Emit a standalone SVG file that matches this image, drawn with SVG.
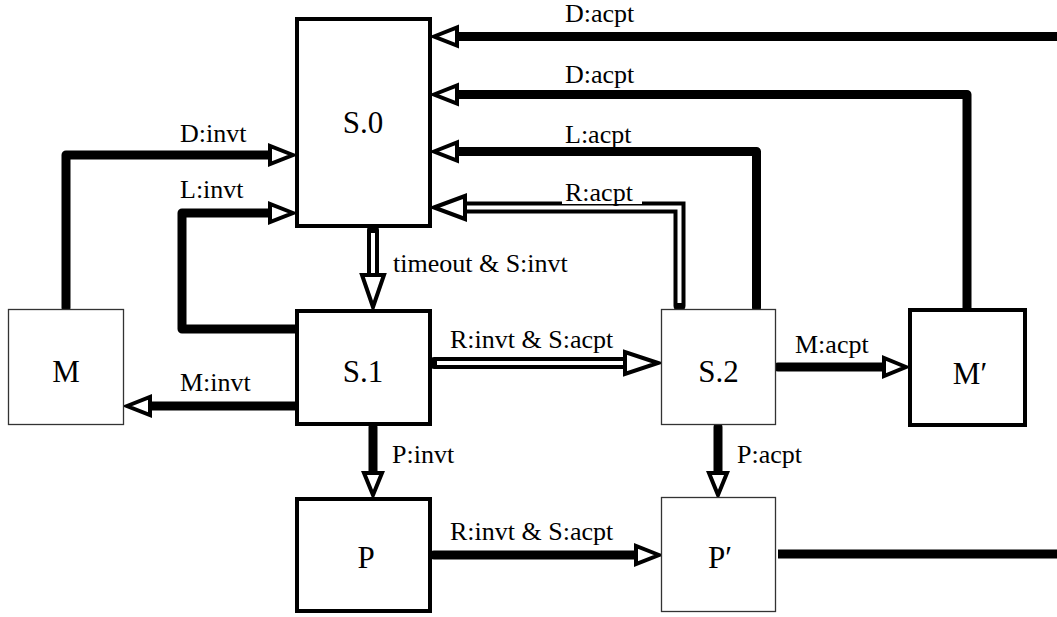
<svg xmlns="http://www.w3.org/2000/svg" width="1057" height="617" viewBox="0 0 1057 617">
<style>
.thick{fill:#fff;stroke:#000;stroke-width:4}
.thin{fill:#fff;stroke:#333;stroke-width:1.3}
.nl{font-family:"Liberation Serif","Times New Roman",serif;font-size:31px;fill:#000;text-anchor:middle}
.el{font-family:"Liberation Serif","Times New Roman",serif;font-size:26px;fill:#000}
.w{fill:none;stroke:#000;stroke-width:9;stroke-linejoin:round;stroke-linecap:round}
.db{fill:none;stroke:#000;stroke-width:12;stroke-linejoin:miter;stroke-linecap:round}
.dw{fill:none;stroke:#fff;stroke-width:4;stroke-linejoin:miter;stroke-linecap:butt}
.ah{fill:#fff;stroke:#000;stroke-width:4;stroke-linejoin:miter}
</style>
<rect width="1057" height="617" fill="#fff"/>
<g id="connectors">
  <!-- D:acpt top -->
  <path class="w" d="M1060,36.5 H457"/>
  <polygon class="ah" points="434,36.5 457,27.5 457,45.5"/>
  <!-- D:acpt from M' -->
  <path class="w" d="M967,308 V94.5 H457"/>
  <polygon class="ah" points="434,94.5 457,85.5 457,103.5"/>
  <!-- L:acpt from S.2 -->
  <path class="w" d="M756.5,308 V151.5 H457"/>
  <polygon class="ah" points="434,151.5 457,142.5 457,160.5"/>
  <!-- R:acpt double from S.2 -->
  <path class="db" d="M679.5,306 V207.5 H466"/>
  <path class="dw" d="M679.5,303 V207.5 H466"/>
  <polygon class="ah" points="434,207.5 465,196 465,219"/>
  <!-- timeout & S:invt double S.0 -> S.1 -->
  <path class="db" d="M373,230 V276"/>
  <path class="dw" d="M373,233 V276"/>
  <polygon class="ah" points="373,307 362,275 384,275"/>
  <!-- D:invt M -> S.0 -->
  <path class="w" d="M66,308 V155 H270"/>
  <polygon class="ah" points="293,155 270,146 270,164"/>
  <!-- L:invt S.1 -> S.0 -->
  <path class="w" d="M295,329 H182 V213 H270"/>
  <polygon class="ah" points="293,213 270,204 270,222"/>
  <!-- M:invt S.1 -> M -->
  <path class="w" d="M295,406 H150"/>
  <polygon class="ah" points="127,406 150,397 150,415"/>
  <!-- R:invt & S:acpt double S.1 -> S.2 -->
  <path class="db" d="M434,363 H626"/>
  <path class="dw" d="M437,363 H626"/>
  <polygon class="ah" points="658,363 625,352 625,374"/>
  <!-- M:acpt S.2 -> M' -->
  <path class="w" d="M778,367 H884"/>
  <polygon class="ah" points="906,367 884,358 884,376"/>
  <!-- P:invt S.1 -> P -->
  <path class="w" d="M373,427 V474"/>
  <polygon class="ah" points="373,495 364,473 382,473"/>
  <!-- P:acpt S.2 -> P' -->
  <path class="w" d="M718,427 V474"/>
  <polygon class="ah" points="718,495 709,473 727,473"/>
  <!-- R:invt & S:acpt P -> P' -->
  <path class="w" d="M434,555 H636"/>
  <polygon class="ah" points="659,555 636,546 636,564"/>
  <!-- P' out -->
  <path class="w" d="M778,554 H1060" style="stroke-linecap:butt"/>
</g>
<g id="labels">
  <text class="el" x="565" y="22">D:acpt</text>
  <text class="el" x="565" y="83">D:acpt</text>
  <text class="el" x="565" y="143">L:acpt</text>
  <rect x="562" y="180" width="80" height="24" fill="#fff"/>
  <text class="el" x="565" y="201">R:acpt</text>
  <text class="el" x="393" y="272">timeout &amp; S:invt</text>
  <text class="el" x="180" y="142">D:invt</text>
  <text class="el" x="180" y="198">L:invt</text>
  <text class="el" x="180" y="391">M:invt</text>
  <text class="el" x="450" y="348">R:invt &amp; S:acpt</text>
  <text class="el" x="795" y="353">M:acpt</text>
  <text class="el" x="392" y="463">P:invt</text>
  <text class="el" x="737" y="463">P:acpt</text>
  <text class="el" x="450" y="540">R:invt &amp; S:acpt</text>
</g>
<g id="S0"><rect class="thick" x="297" y="19" width="133" height="207"/><text class="nl" x="363" y="133">S.0</text></g>
<g id="S1"><rect class="thick" x="297" y="311" width="133" height="113"/><text class="nl" x="363" y="382">S.1</text></g>
<g id="S2"><rect class="thin" x="661.5" y="309.5" width="114" height="115"/><text class="nl" x="718.5" y="382">S.2</text></g>
<g id="M"><rect class="thin" x="8.5" y="309.5" width="115" height="115"/><text class="nl" x="66" y="382">M</text></g>
<g id="Mp"><rect class="thick" x="910" y="310" width="115" height="115"/><text class="nl" x="970" y="384">M′</text></g>
<g id="P"><rect class="thick" x="297" y="499" width="133" height="112"/><text class="nl" x="366" y="568">P</text></g>
<g id="Pp"><rect class="thin" x="661.5" y="497.5" width="114" height="114"/><text class="nl" x="720" y="568">P′</text></g>
</svg>
